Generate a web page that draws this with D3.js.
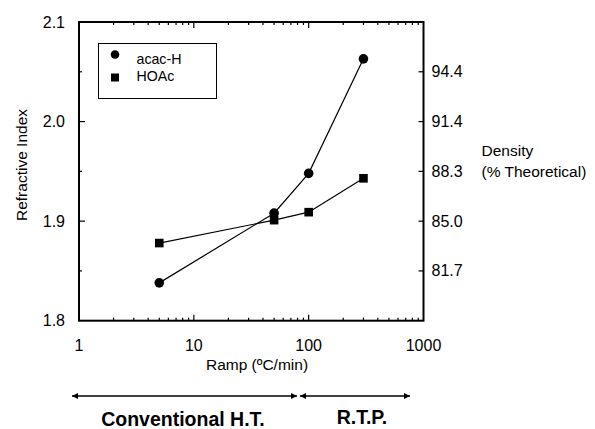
<!DOCTYPE html>
<html>
<head>
<meta charset="utf-8">
<script src="https://cdn.jsdelivr.net/npm/d3@7"></script>
<style>
body { margin: 0; background: #fff; }
svg { display: block; }
text { font-family: "Liberation Sans", Arial, sans-serif; fill: #000; }
</style>
</head>
<body>
<svg id="chart" width="595" height="429"></svg>
<script>
// data
const ramps = [5, 50, 100, 300];
const acacH = [1.838, 1.908, 1.948, 2.063];
const hoac = [1.878, 1.901, 1.909, 1.943];
const seriesNames = ["acac-H", "HOAc"];

const xTicks = [1, 10, 100, 1000];
const yTicks = [1.8, 1.9, 2.0, 2.1];
const yMinor = [1.85, 1.95, 2.05];
// density axis : labels placed on the refractive index positions
const densPos = [2.05, 2.0, 1.95, 1.9, 1.85];
const densLabels = ["94.4", "91.4", "88.3", "85.0", "81.7"];

const svg = d3.select("#chart");
const pLeft = 79, pRight = 423.5, pTop = 22, pBottom = 320.7;

const x = d3.scaleLog().domain([1, 1000]).range([pLeft, pRight]);
const y = d3.scaleLinear().domain([1.8, 2.1]).range([pBottom, pTop]);

// minor log ticks 2..9 in every decade
let xMinor = [];
for (let d = 1; d < 1000; d *= 10) {
	for (let k = 2; k <= 9; k++) xMinor.push(d * k);
}

//frame
svg.append("rect")
	.attr("x", pLeft).attr("y", pTop)
	.attr("width", pRight - pLeft).attr("height", pBottom - pTop)
	.style("fill", "none").style("stroke", "#000").style("stroke-width", 2);

// ticks, all pointing inward
const tickG = svg.append("g").style("stroke", "#000").style("stroke-width", 1.2);
xTicks.slice(1, -1).forEach(v => {
	tickG.append("line").attr("x1", x(v)).attr("x2", x(v)).attr("y1", pBottom).attr("y2", pBottom - 6);
	tickG.append("line").attr("x1", x(v)).attr("x2", x(v)).attr("y1", pTop).attr("y2", pTop + 6);
});
xMinor.forEach(v => {
	tickG.append("line").attr("x1", x(v)).attr("x2", x(v)).attr("y1", pBottom).attr("y2", pBottom - 3);
	tickG.append("line").attr("x1", x(v)).attr("x2", x(v)).attr("y1", pTop).attr("y2", pTop + 3);
});
yTicks.slice(1, -1).forEach(v => {
	tickG.append("line").attr("x1", pLeft).attr("x2", pLeft + 6).attr("y1", y(v)).attr("y2", y(v));
});
yMinor.forEach(v => {
	tickG.append("line").attr("x1", pLeft).attr("x2", pLeft + 3).attr("y1", y(v)).attr("y2", y(v));
});
densPos.forEach(v => {
	tickG.append("line").attr("x1", pRight).attr("x2", pRight - 5).attr("y1", y(v)).attr("y2", y(v));
});

// tick labels
svg.append("g").selectAll("text")
	.data(xTicks).enter().append("text")
	.attr("x", d => x(d)).attr("y", 351)
	.attr("text-anchor", "middle").style("font-size", "16px")
	.text(d => d);

svg.append("g").selectAll("text")
	.data(yTicks).enter().append("text")
	.attr("x", 65).attr("y", d => y(d) + 5.5)
	.attr("text-anchor", "end").style("font-size", "16px")
	.text(d => d.toFixed(1));

svg.append("g").selectAll("text")
	.data(densPos).enter().append("text")
	.attr("x", 431.5).attr("y", d => y(d) + 5.5)
	.style("font-size", "16px")
	.text((d, i) => densLabels[i]);

// axis titles
svg.append("text")
	.attr("transform", "translate(26.5,165) rotate(-90)")
	.attr("text-anchor", "middle").style("font-size", "15.5px")
	.text("Refractive Index");
svg.append("text")
	.attr("x", 257).attr("y", 370)
	.attr("text-anchor", "middle").style("font-size", "15.5px")
	.text("Ramp (ºC/min)");
svg.append("text").attr("x", 481.5).attr("y", 156).style("font-size", "15.5px").text("Density");
svg.append("text").attr("x", 481.5).attr("y", 177).style("font-size", "15.5px").text("(% Theoretical)");

// lines and markers
const line = d3.line().x(d => x(d[0])).y(d => y(d[1]));
[acacH, hoac].forEach(vals => {
	svg.append("path")
		.attr("d", line(ramps.map((r, i) => [r, vals[i]])))
		.style("fill", "none").style("stroke", "#000").style("stroke-width", 1.2);
});
svg.append("g").selectAll("circle")
	.data(ramps).enter().append("circle")
	.attr("cx", d => x(d)).attr("cy", (d, i) => y(acacH[i]))
	.attr("r", 4.8).style("fill", "#000");
svg.append("g").selectAll("rect")
	.data(ramps).enter().append("rect")
	.attr("x", d => x(d) - 4.3).attr("y", (d, i) => y(hoac[i]) - 4.3)
	.attr("width", 8.6).attr("height", 8.6).style("fill", "#000");

// legend
svg.append("rect")
	.attr("x", 98.5).attr("y", 43.5).attr("width", 118).attr("height", 55)
	.style("fill", "#fff").style("stroke", "#000").style("stroke-width", 1);
svg.append("circle").attr("cx", 115).attr("cy", 54.5).attr("r", 4.3).style("fill", "#000");
svg.append("rect").attr("x", 111).attr("y", 73.5).attr("width", 8).attr("height", 8).style("fill", "#000");
svg.append("text").attr("x", 136.5).attr("y", 63.5).style("font-size", "14.2px").text(seriesNames[0]);
svg.append("text").attr("x", 136.5).attr("y", 80.5).style("font-size", "14.2px").text(seriesNames[1]);

// process range arrows
const defs = svg.append("defs");
defs.append("marker")
	.attr("id", "head").attr("viewBox", "0 0 10 10")
	.attr("refX", 10).attr("refY", 5)
	.attr("markerWidth", 9).attr("markerHeight", 6)
	.attr("markerUnits", "userSpaceOnUse")
	.attr("orient", "auto-start-reverse")
	.append("path").attr("d", "M0,0 L10,5 L0,10 Z").style("fill", "#000");

[[72, 297], [300, 410]].forEach(a => {
	svg.append("line")
		.attr("x1", a[0]).attr("x2", a[1]).attr("y1", 396).attr("y2", 396)
		.style("stroke", "#000").style("stroke-width", 1.3)
		.attr("marker-start", "url(#head)").attr("marker-end", "url(#head)");
});
svg.append("text")
	.attr("x", 183).attr("y", 425.5).attr("text-anchor", "middle")
	.style("font-size", "19.5px").style("font-weight", "bold")
	.text("Conventional H.T.");
svg.append("text")
	.attr("x", 362).attr("y", 423.5).attr("text-anchor", "middle")
	.style("font-size", "19.5px").style("font-weight", "bold")
	.text("R.T.P.");
</script>
</body>
</html>
